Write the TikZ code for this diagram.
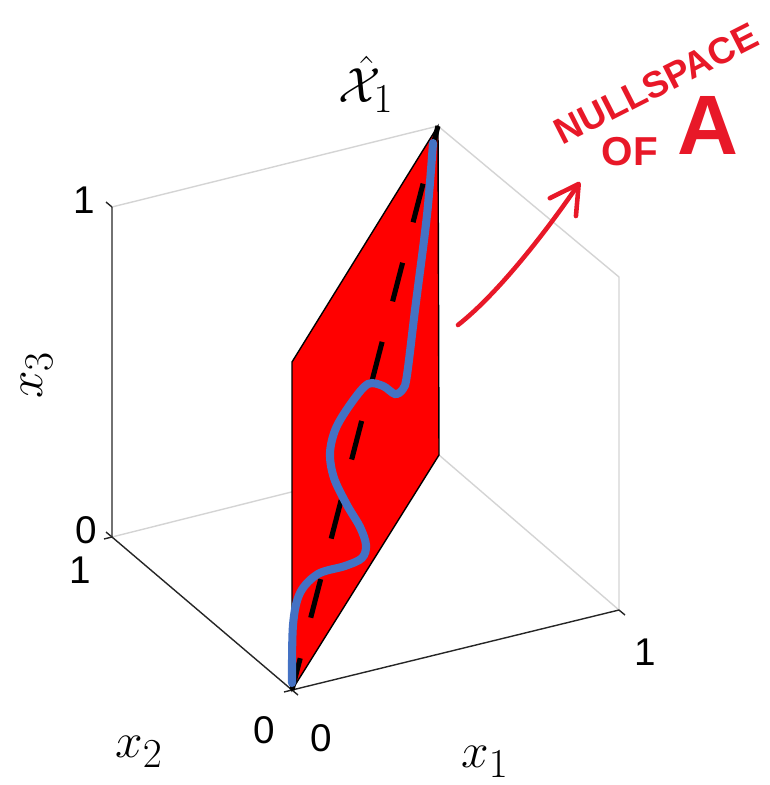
\documentclass[tikz,border=0pt]{standalone}
\usepackage{amsmath, amssymb}
\usepackage{fontspec}
\newfontfamily\ticksfont{Liberation Sans}
\usepackage{tikz}
\usetikzlibrary{arrows.meta}
\definecolor{planered}{RGB}{255,0,0}
\definecolor{curveblue}{RGB}{68,114,196}
\definecolor{inkred}{RGB}{232,24,40}
\definecolor{boxgray}{RGB}{212,212,212}
\definecolor{axgray}{RGB}{38,38,38}
\tikzset{boxline/.style={boxgray, line width=0.8pt},
  axisline/.style={axgray, line width=0.8pt},
  ticklbl/.style={font=\fontsize{22}{26}\selectfont\ticksfont, inner sep=0pt},
  axlbl/.style={font=\fontsize{24.88}{30}\selectfont, inner sep=0pt, scale=1.13},
  ink/.style={inkred, line width=2.6pt, line cap=round, line join=round},
  inktext/.style={inkred, inner sep=0pt, font=\ticksfont\bfseries\fontsize{#1}{#1}\selectfont}}

\begin{document}
\begin{tikzpicture}[x=0.02cm, y=-0.02cm]
\useasboundingbox (0,0) rectangle (769,785);
% corners of the unit box
\coordinate (o) at (292,690);     % (0,0,0)
\coordinate (a1) at (619,610);    % (1,0,0)
\coordinate (a2) at (112,537);    % (0,1,0)
\coordinate (a3) at (292,362);    % (0,0,1)
\coordinate (a12) at (439,455);   % (1,1,0)
\coordinate (a13) at (619,277);   % (1,0,1)
\coordinate (a23) at (112,207);   % (0,1,1)
\coordinate (a123) at (438,126);  % (1,1,1)

% back edges of the box
\draw[boxline] (a23) -- (a123) -- (a13) -- (a1);
\draw[boxline] (a2) -- (a12) -- (a1);

% axes and ticks
\draw[axisline] (a23) -- (a2) -- (o) -- (a1);
\draw[axisline] (a23) -- ++(-6,-5) (a2) -- ++(-6,-5);
\draw[axisline] (a2) -- ++(-8,2) (o) -- ++(-8,2);
\draw[axisline] (o) -- ++(6,5) (a1) -- ++(6,5);

% null space plane
\draw[fill=planered, line width=0.8pt] (o) -- (a3) -- (a123) -- (a12) -- cycle;
\draw[line width=2.9pt, dash pattern=on 22.7pt off 23.8pt, dash phase=4pt] (o) -- (a123);

% curve in the plane
\draw[curveblue, line width=4.6pt, line cap=round] plot[smooth, tension=0.55] coordinates {(292,683) (293,625) (300,593) (318,574) (345,566) (362,558) (366,545) (360,527) (347,505) (334,478) (330,453) (336,428) (352,402) (368,384) (383,386) (395,394) (403,389) (407,375) (415,310) (427,215) (433,143)};

% tick labels
\node[ticklbl] (z1) at (84,200) {1};
\node[ticklbl] (z0) at (86,530) {0};
\node[ticklbl] (y1) at (80,570) {1};
\node[ticklbl] (y0) at (264,730) {0};
\node[ticklbl] (x0) at (321,738) {0};
\node[ticklbl] (x1) at (645,652) {1};

% axis labels
\node[axlbl, rotate=90] (lx3) at (37,375) {$x_3$};
\node[axlbl] (lx2) at (139,752) {$x_2$};
\node[axlbl] (lx1) at (485,762) {$x_1$};
\node[axlbl] (lhat) at (366,84) {$\hat{\mathcal{X}}_1$};

% note
\node[inktext=21, rotate=27] (ns) at (656,84) {NULLSPACE};
\node[inktext=23] (of) at (630,152) {OF};
\node[inktext=48] (ofa) at (708,125) {A};
\coordinate (tail) at (458,325);
\coordinate (tip) at (580,182);
\draw[ink, -{Straight Barb[length=16pt, width=18pt, round]}] (tail) .. controls (500,292) and (550,226) .. (tip);
\end{tikzpicture}
\end{document}
